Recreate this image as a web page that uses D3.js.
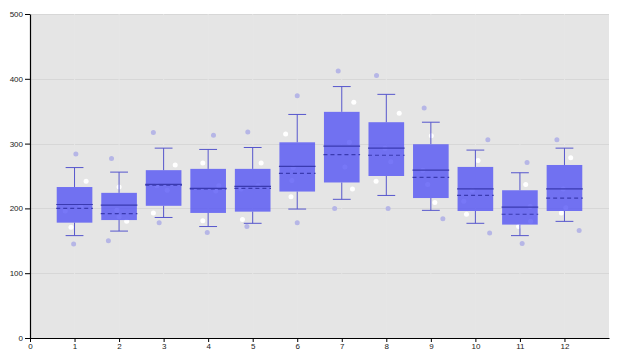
<!DOCTYPE html>
<html>
<head>
<meta charset="utf-8">
<script src="https://cdn.jsdelivr.net/npm/d3@7"></script>
<style>
  html, body { margin: 0; padding: 0; background: #fff; }
  svg { display: block; }
  .axis text { font-family: "Liberation Sans", Arial, sans-serif; font-size: 8px; fill: #222; }
</style>
</head>
<body>
<svg id="chart" width="620" height="361"></svg>
<script>
// ---- Data ----
const months = [1, 2, 3, 4, 5, 6, 7, 8, 9, 10, 11, 12];
const whiskerLow  = [158, 165, 186, 172, 177, 199, 214, 220, 197, 177, 158, 180];
const q1          = [178, 182, 204, 193, 195, 226, 240, 250, 216, 196, 175, 196];
const median      = [206, 205, 237, 231, 234, 265, 296, 293, 259, 230, 202, 230];
const mean        = [200, 192, 236, 230, 231, 254, 283, 282, 248, 220, 191, 216];
const q3          = [233, 224, 259, 261, 261, 302, 349, 333, 299, 264, 228, 267];
const whiskerHigh = [263, 256, 293, 291, 294, 345, 388, 376, 333, 290, 255, 293];

// Individual observations: x (month, jittered) and value
const pointX = [
  [1.03, 1.26, 0.92, 0.98, 0.79, 1.14],
  [1.83, 2.00, 2.17, 1.76, 1.95, 2.00],
  [2.77, 3.26, 2.77, 2.90, 2.85, 3.08],
  [4.12, 3.88, 3.88, 3.98, 4.24, 4.17],
  [4.89, 5.19, 4.77, 4.87, 4.74, 5.12],
  [6.00, 5.74, 5.86, 6.00, 5.91, 5.88],
  [6.92, 7.27, 7.24, 6.84, 7.17, 7.07],
  [7.78, 8.29, 7.77, 8.04, 7.97, 8.10],
  [8.85, 9.01, 9.09, 9.27, 8.82, 8.93],
  [10.28, 10.06, 9.80, 10.32, 9.93, 9.74],
  [11.16, 11.13, 10.97, 11.05, 11.23, 11.24],
  [11.83, 12.14, 11.93, 12.33, 11.97, 12.03]
];
const pointV = [
  [284, 242, 171, 145, 196, 203],
  [277, 233, 180, 150, 197, 187],
  [317, 267, 193, 178, 235, 228],
  [313, 270, 181, 163, 235, 227],
  [318, 270, 183, 172, 230, 235],
  [374, 315, 218, 178, 263, 243],
  [412, 364, 230, 200, 302, 264],
  [405, 347, 242, 200, 293, 272],
  [355, 312, 209, 184, 259, 237],
  [306, 274, 191, 162, 228, 211],
  [271, 237, 172, 146, 203, 180],
  [306, 278, 193, 166, 230, 201]
];
const xTicks = [0, 1, 2, 3, 4, 5, 6, 7, 8, 9, 10, 11, 12];
const yTicks = [0, 100, 200, 300, 400, 500];

// ---- Layout ----
const svg = d3.select("#chart");
const mLeft = 30, mRight = 609, mTop = 14, mBottom = 338;

const x = d3.scaleLinear().domain([0, 13]).range([mLeft, mRight]);
const y = d3.scaleLinear().domain([0, 500]).range([mBottom, mTop]);

const boxW = x(0.8) - x(0);
const capW = x(0.4) - x(0);

// background
svg.append("rect")
  .attr("x", mLeft).attr("y", mTop)
  .attr("width", mRight - mLeft).attr("height", mBottom - mTop)
  .attr("fill", "#e5e5e5");

// horizontal gridlines
svg.append("g").selectAll("line").data(yTicks.filter(d => d > 0)).join("line")
  .attr("x1", mLeft).attr("x2", mRight)
  .attr("y1", d => Math.round(y(d)) + 0.5).attr("y2", d => Math.round(y(d)) + 0.5)
  .attr("stroke", "#d7d7d7").attr("stroke-width", 1);

// vertical gridlines (same tone as background)
svg.append("g").selectAll("line").data(xTicks.filter(d => d > 0)).join("line")
  .attr("x1", d => x(d)).attr("x2", d => x(d))
  .attr("y1", mTop).attr("y2", mBottom)
  .attr("stroke", "#e6e6e6").attr("stroke-width", 1);

// points
const pts = [];
months.forEach((m, i) => {
  pointX[i].forEach((px, j) => {
    const v = pointV[i][j];
    const outlier = v < whiskerLow[i] || v > whiskerHigh[i];
    pts.push({ px, v, outlier });
  });
});
svg.append("g").selectAll("circle").data(pts).join("circle")
  .attr("cx", d => x(d.px)).attr("cy", d => y(d.v))
  .attr("r", 2.5)
  .attr("fill", d => d.outlier ? "#b6b6e6" : "#ffffff");

// boxes
const g = svg.append("g");
const wColor = "#5656cc", mColor = "#3a3ab0";
months.forEach((m, i) => {
  const cx = x(m);
  g.append("line").attr("x1", cx).attr("x2", cx)
    .attr("y1", y(whiskerHigh[i])).attr("y2", y(q3[i]))
    .attr("stroke", wColor).attr("stroke-width", 1);
  g.append("line").attr("x1", cx).attr("x2", cx)
    .attr("y1", y(q1[i])).attr("y2", y(whiskerLow[i]))
    .attr("stroke", wColor).attr("stroke-width", 1);
  g.append("line").attr("x1", cx - capW / 2).attr("x2", cx + capW / 2)
    .attr("y1", y(whiskerHigh[i])).attr("y2", y(whiskerHigh[i]))
    .attr("stroke", wColor).attr("stroke-width", 1);
  g.append("line").attr("x1", cx - capW / 2).attr("x2", cx + capW / 2)
    .attr("y1", y(whiskerLow[i])).attr("y2", y(whiskerLow[i]))
    .attr("stroke", wColor).attr("stroke-width", 1);
  g.append("rect")
    .attr("x", cx - boxW / 2).attr("y", y(q3[i]))
    .attr("width", boxW).attr("height", y(q1[i]) - y(q3[i]))
    .attr("fill", "#4c4cf4").attr("fill-opacity", 0.76);
  g.append("line").attr("x1", cx - boxW / 2 - 0.5).attr("x2", cx + boxW / 2 + 0.5)
    .attr("y1", y(median[i])).attr("y2", y(median[i]))
    .attr("stroke", mColor).attr("stroke-width", 1.2);
  g.append("line").attr("x1", cx - boxW / 2 - 0.5).attr("x2", cx + boxW / 2 + 0.5)
    .attr("y1", y(mean[i])).attr("y2", y(mean[i]))
    .attr("stroke", mColor).attr("stroke-width", 1.2)
    .attr("stroke-dasharray", "4,3");
});

// axes
const xAxis = d3.axisBottom(x).tickValues(xTicks).tickSize(4).tickSizeOuter(0);
const yAxis = d3.axisLeft(y).tickValues(yTicks).tickSize(5).tickSizeOuter(0);

const gx = svg.append("g").attr("class", "axis")
  .attr("transform", `translate(0,${mBottom})`).call(xAxis);
gx.select(".domain").attr("stroke", "#000").attr("stroke-width", 1.2);
gx.selectAll(".tick line").attr("stroke", "#000");
gx.selectAll(".tick text").attr("y", 5).attr("dy", "0.71em");

const gy = svg.append("g").attr("class", "axis")
  .attr("transform", `translate(${mLeft},0)`).call(yAxis);
gy.select(".domain").attr("stroke", "#000").attr("stroke-width", 1.2);
gy.selectAll(".tick line").attr("stroke", "#000");
gy.selectAll(".tick text").attr("x", -7);
</script>
</body>
</html>
